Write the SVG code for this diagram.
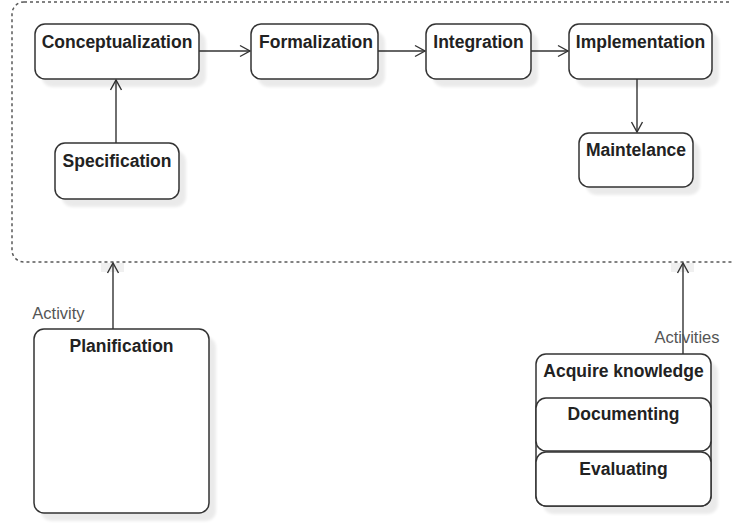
<svg xmlns="http://www.w3.org/2000/svg" width="732" height="525" viewBox="0 0 732 525">
<style>
.box{fill:#fff;stroke:#333;stroke-width:1.5}
.sh{fill:#000;opacity:0.08}
.t{font-family:"Liberation Sans",Arial,sans-serif;font-weight:bold;font-size:17.5px;fill:#222;text-anchor:middle}
.lbl{font-family:"Liberation Sans",Arial,sans-serif;font-size:16.5px;fill:#555;text-anchor:middle}
.c{stroke:#333;stroke-width:1.4;fill:none;marker-end:url(#arr)}
</style>
<defs>
<marker id="arr" markerWidth="14" markerHeight="14" refX="11" refY="7" orient="auto" markerUnits="userSpaceOnUse">
<path d="M1,1.5 L11,7 L1,12.5" fill="none" stroke="#333" stroke-width="1.4"/>
</marker>
<filter id="blur" x="-10%" y="-10%" width="130%" height="130%"><feGaussianBlur stdDeviation="1.5"/></filter>
</defs>
<rect x="0" y="0" width="732" height="525" fill="#fff"/>
<g id="container">
<rect x="12" y="2" width="760" height="260" rx="12" fill="none" stroke="#5a5a5a" stroke-width="1.5" stroke-dasharray="3,3"/>
</g>
<g id="connectors">
<rect x="101" y="263" width="23" height="9" fill="#f0f0f0"/>
<rect x="671" y="263" width="23" height="9" fill="#f0f0f0"/>
<line class="c" x1="199" y1="51" x2="250" y2="51"/>
<line class="c" x1="378" y1="51" x2="425" y2="51"/>
<line class="c" x1="531" y1="51" x2="568" y2="51"/>
<line class="c" x1="116" y1="143" x2="116" y2="80"/>
<line class="c" x1="637" y1="79" x2="637" y2="132"/>
<line class="c" x1="113" y1="329" x2="113" y2="263"/>
<line class="c" x1="683" y1="354" x2="683" y2="263"/>
<text class="lbl" x="58.5" y="319">Activity</text>
<text class="lbl" x="687" y="343">Activities</text>
</g>
<g id="conceptualization">
<rect class="sh" filter="url(#blur)" x="42" y="32" width="164" height="55" rx="10"/>
<rect class="box" x="35" y="24" width="164" height="55" rx="10"/>
<text class="t" x="117" y="48">Conceptualization</text>
</g>
<g id="formalization">
<rect class="sh" filter="url(#blur)" x="258" y="32" width="127" height="55" rx="10"/>
<rect class="box" x="251" y="24" width="127" height="55" rx="10"/>
<text class="t" x="316" y="48">Formalization</text>
</g>
<g id="integration">
<rect class="sh" filter="url(#blur)" x="433" y="32" width="105" height="55" rx="10"/>
<rect class="box" x="426" y="24" width="105" height="55" rx="10"/>
<text class="t" x="478.5" y="48">Integration</text>
</g>
<g id="implementation">
<rect class="sh" filter="url(#blur)" x="576" y="32" width="143" height="55" rx="10"/>
<rect class="box" x="569" y="24" width="143" height="55" rx="10"/>
<text class="t" x="640.5" y="48">Implementation</text>
</g>
<g id="specification">
<rect class="sh" filter="url(#blur)" x="62" y="151" width="124" height="56" rx="10"/>
<rect class="box" x="55" y="143" width="124" height="56" rx="10"/>
<text class="t" x="117" y="167">Specification</text>
</g>
<g id="maintelance">
<rect class="sh" filter="url(#blur)" x="586" y="141" width="114" height="54" rx="10"/>
<rect class="box" x="579" y="133" width="114" height="54" rx="10"/>
<text class="t" x="636" y="156">Maintelance</text>
</g>
<g id="planification">
<rect class="sh" filter="url(#blur)" x="41" y="337" width="175" height="184" rx="10"/>
<rect class="box" x="34" y="329" width="175" height="184" rx="10"/>
<text class="t" x="121.5" y="352">Planification</text>
</g>
<g id="activities">
<rect class="sh" filter="url(#blur)" x="543" y="362" width="175" height="152" rx="10"/>
<rect class="box" x="536" y="354" width="175" height="152" rx="10"/>
<text class="t" x="623.5" y="377">Acquire knowledge</text>
</g>
<g id="documenting">
<rect class="box" x="536" y="398" width="175" height="53" rx="10"/>
<text class="t" x="623.5" y="420">Documenting</text>
</g>
<g id="evaluating">
<rect class="box" x="536" y="452" width="175" height="54" rx="10"/>
<text class="t" x="623.5" y="475">Evaluating</text>
</g>
</svg>
